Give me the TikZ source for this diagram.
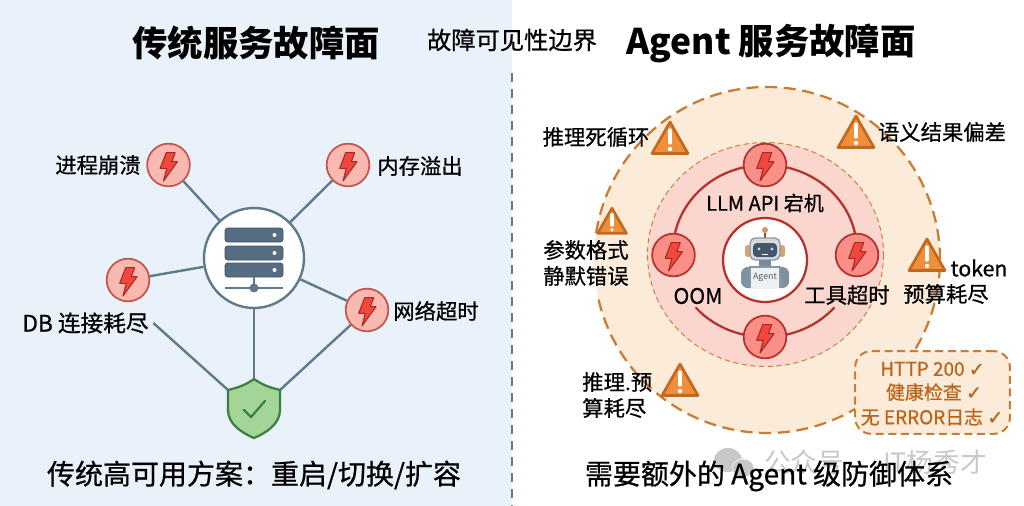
\documentclass[tikz,border=0pt]{standalone}
\usepackage{fontspec}
\setmainfont{Noto Sans CJK SC}
\newfontfamily\medfont[FakeBold=0.7]{Noto Sans CJK SC}
\newfontfamily\symfont[FakeBold=1.2]{DejaVu Sans}
\usepackage{tikz}

\definecolor{panelblue}{HTML}{E9F1FA}
\definecolor{slateline}{HTML}{5F7A8C}
\definecolor{rackblue}{HTML}{566C82}
\definecolor{boltdisc}{HTML}{F8B9B1}
\definecolor{boltrim}{HTML}{C4564E}
\definecolor{boltfill}{HTML}{F2473F}
\definecolor{boltedge}{HTML}{A52A25}
\definecolor{ringred}{HTML}{B5322C}
\definecolor{ringdisc}{HTML}{F98F87}
\definecolor{peach}{HTML}{FDEBDA}
\definecolor{rose}{HTML}{FAD6CE}
\definecolor{dashorange}{HTML}{C97C32}
\definecolor{warnfill}{HTML}{F08F3A}
\definecolor{warnedge}{HTML}{C2691F}
\definecolor{boxtext}{HTML}{B9651C}
\definecolor{leaf}{HTML}{A3D696}
\definecolor{leafedge}{HTML}{3C8048}
\definecolor{markgray}{HTML}{C8C8C8}

\newcommand{\boltat}[1]{
  \draw[bolt,shift={(#1)}] (-2.3,-12.3) -- (6.7,-12.3) -- (3.3,-3.3) -- (9,-3.3)
    -- (-5,16) -- (-1.7,3.3) -- (-8.3,3.3) -- cycle;
}
\newcommand{\warnat}[2]{
  \begin{scope}[shift={(#1)},scale=#2]
    \draw[warn] (0,-16) -- (18,15.5) -- (-18,15.5) -- cycle;
    \draw[white,line width=2.4pt,line cap=round] (0,-8) -- (0,5);
    \fill[white] (0,11) circle [radius=2.2];
  \end{scope}
}
\newcommand{\chk}{{\symfont ✓}}

\begin{document}
\begin{tikzpicture}[x=.75pt,y=-.75pt,
    title/.style={font=\fontsize{26.5}{30}\selectfont\bfseries},
    caption/.style={font=\fontsize{21}{24}\selectfont\medfont},
    label/.style={font=\fontsize{16}{20}\selectfont\medfont,align=left},
    boxline/.style={font=\fontsize{14.2}{16}\selectfont\medfont,text=boxtext},
    faildisc/.style={circle,draw=boltrim,fill=boltdisc,line width=1.3pt,minimum size=32pt,inner sep=0pt},
    ringnode/.style={faildisc,draw=ringred,fill=ringdisc},
    bolt/.style={draw=boltedge,fill=boltfill,line width=.8pt,line join=round},
    warn/.style={draw=warnedge,fill=warnfill,line width=2pt,line join=round},
    link/.style={draw=slateline,line width=1.8pt},
    rack/.style={draw=rackblue!80!black,fill=rackblue,line width=.6pt,rounded corners=2pt},
    marktext/.style={text=markgray,font=\fontsize{20}{24}\selectfont}]

  \useasboundingbox (0,0) rectangle (1024,506);
  \fill[panelblue] (0,0) rectangle (512,506);

  \coordinate (sepTop) at (512,73);
  \coordinate (sepBot) at (512,506);
  \draw[slateline,line width=1.5pt,dash pattern=on 7pt off 5pt] (sepTop) -- (sepBot);

  \node[title] (leftTitle) at (256,43) {传统服务故障面};
  \node[title] (rightTitle) at (771,43) {Agent 服务故障面};
  \node[font=\fontsize{18.2}{22}\selectfont\medfont] (edgeTitle) at (512,40) {故障可见性边界};

  % left side
  \node[circle,draw=slateline,fill=white,line width=1.8pt,minimum size=75pt,inner sep=0pt] (server) at (254,258) {};
  \node[faildisc] (crash) at (168.5,165) {};
  \node[faildisc] (oom) at (348,165) {};
  \node[faildisc] (dbb) at (128,280) {};
  \node[faildisc] (net) at (367,310) {};
  \node[label] (crashL) at (98,165) {进程崩溃};
  \node[label] (oomL) at (420,166) {内存溢出};
  \node[label,font=\fontsize{17}{20}\selectfont\medfont] (dbL) at (85.5,323) {DB 连接耗尽};
  \node[label] (netL) at (436,311) {网络超时};
  \node[minimum width=39pt,minimum height=44pt,inner sep=0pt] (shield) at (254,408.5) {};
  \coordinate (shieldL) at (228,390);
  \coordinate (shieldR) at (280,390);

  \draw[link] (crash) -- (server);
  \draw[link] (oom) -- (server);
  \draw[link] (dbb) -- (server);
  \draw[link] (net) -- (server);
  \draw[link] (server) -- (shield.north);
  \draw[link] (dbL.east) -- (shieldL);
  \draw[link] (net) -- (shieldR);

  \foreach \n in {crash,oom,dbb,net} { \boltat{\n} }

  \foreach \y in {228,246,263}
    \draw[rack] (225,\y) rectangle (283,\y+14);
  \foreach \y in {235,253,270}
    \fill[white] (274.5,\y) circle [radius=2];
  \draw[slateline,line width=1.2pt] (254,277) -- (254,288);
  \draw[slateline,line width=1.2pt] (225,288) -- (283,288);
  \draw[rackblue,fill=slateline,line width=.6pt] (254,288) circle [radius=4];

  \draw[leafedge,fill=leaf,line width=1.7pt,line join=round]
    (254,379) .. controls (244,386) and (236,388) .. (228,390)
    -- (228,410) .. controls (228,424) and (242,433) .. (254,438)
    .. controls (266,433) and (280,424) .. (280,410)
    -- (280,390) .. controls (272,388) and (264,386) .. (254,379) -- cycle;
  \draw[leafedge,line width=1.7pt,line cap=round,line join=round] (244,410) -- (251,417) -- (265,401);

  % watermark
  \fill[markgray] (728,460) ellipse [x radius=14,y radius=12];
  \fill[markgray,draw=white] (743,468) ellipse [x radius=11,y radius=9];
  \node[marktext] (markA) at (804,462) {公众号};
  \node[marktext] (markB) at (935,462) {IT杨秀才};

  \node[caption] (leftCap) at (254,475) {传统高可用方案：重启/切换/扩容};
  \node[caption] (rightCap) at (769,476) {需要额外的 Agent 级防御体系};

  % right side
  \fill[peach] (767,260) circle [radius=173];
  \draw[dashorange,line width=1.7pt,dash pattern=on 9pt off 5pt] (767,260) ++(189:173) arc [start angle=189,end angle=527,radius=173];
  \draw[dashorange,fill=rose,line width=.7pt,dash pattern=on 4pt off 2.5pt] (765.5,254.5) ellipse [x radius=118,y radius=112];

  \draw[ringred,line width=1.7pt] (765,251) ++(165:92 and 86) arc [start angle=165,end angle=375,x radius=92,y radius=86];
  \draw[ringred,line width=1.7pt] (765,251) ++(139:92 and 86) arc [start angle=139,end angle=41,x radius=92,y radius=86];

  \node[circle,draw=ringred,fill=white,line width=1.7pt,minimum size=63pt,inner sep=0pt] (agent) at (765,260) {};
  \node[ringnode] (apiDown) at (765,165) {};
  \node[ringnode] (memDown) at (673.5,255) {};
  \node[ringnode] (toolDown) at (857,255) {};
  \node[ringnode] (lowDown) at (765,337) {};
  \foreach \n in {apiDown,memDown,toolDown,lowDown} { \boltat{\n} }

  % robot
  \draw[dashorange!70!black,line width=.8pt] (765,233) -- (765,238);
  \fill[dashorange!80!white] (765,230) circle [radius=3];
  \fill[dashorange!70!white,rounded corners=2pt] (745,245) rectangle (751,257);
  \fill[dashorange!70!white,rounded corners=2pt] (779,245) rectangle (785,257);
  \draw[rackblue!70,fill=rackblue!25,line width=1pt,rounded corners=4pt] (750,238) rectangle (780,260);
  \fill[rackblue!80!black,rounded corners=3pt] (753,243) rectangle (777,257);
  \fill[cyan!35] (759,249) circle [radius=1.6];
  \fill[cyan!35] (772,249) circle [radius=1.6];
  \draw[white,line width=.7pt] (762,254) -- (768,254);
  \fill[rackblue!80] (759,260) rectangle (771,266);
  \fill[rackblue!75,rounded corners=5pt] (741,288) -- (741,267) -- (789,267) -- (789,288) -- cycle;
  \draw[rackblue!70,fill=rackblue!10,line width=.8pt] (750,288) -- (750,267) -- (780,267) -- (780,288);
  \node[text=rackblue!90!black,font=\fontsize{6.6}{8}\selectfont,inner sep=0pt] (agentL) at (765,277) {Agent};

  \warnat{670,138}{1}
  \warnat{856,132}{1}
  \warnat{612,221}{.8}
  \warnat{927,255}{1}
  \warnat{680,380}{1}

  \node[label] (loopL) at (596,137) {推理死循环};
  \node[label] (driftL) at (942,132) {语义结果偏差};
  \node[label,anchor=west,inner sep=0pt] (paramL) at (543,250) {参数格式};
  \node[label,anchor=west,inner sep=0pt] (paramM) at (543,276) {静默错误};
  \node[label] (tokenL) at (979,268) {token};
  \node[label] (tokenM) at (946,294) {预算耗尽};
  \node[label,anchor=west,inner sep=0pt] (budgetL) at (582,382) {推理.预};
  \node[label,anchor=west,inner sep=0pt] (budgetM) at (582,408) {算耗尽};
  \node[label,font=\fontsize{15}{20}\selectfont\medfont] (apiL) at (765,203) {LLM API 宕机};
  \node[label] (memL) at (698,296) {OOM};
  \node[label] (toolL) at (847,295) {工具超时};

  \node[draw=dashorange,fill=peach,line width=1.5pt,dash pattern=on 6pt off 3.5pt,rounded corners=12pt,
    minimum width=116pt,minimum height=62pt,inner sep=0pt] (okBox) at (932.5,392.5) {};
  \node[boxline] (okA) at (932.5,369) {HTTP 200 \chk};
  \node[boxline] (okB) at (934,392) {健康检查 \chk};
  \node[boxline] (okC) at (932,417) {无 ERROR日志 \chk};
\end{tikzpicture}
\end{document}
